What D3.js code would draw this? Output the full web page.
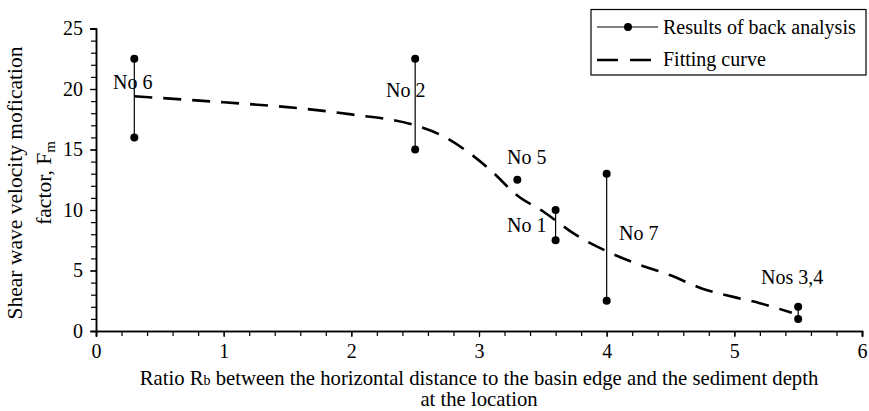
<!DOCTYPE html>
<html><head><meta charset="utf-8">
<script src="https://cdn.jsdelivr.net/npm/d3@7"></script>
<style>
body{margin:0;background:#fff;}
text{font-family:"Liberation Serif","Times New Roman",serif;fill:#000;}
</style></head>
<body>
<svg id="chart" width="869" height="411"></svg>
<script>
// Results of back analysis: ranges per site
const siteNames = ["No 6","No 2","No 5","No 1","No 7","Nos 3,4"];
const siteX     = [0.3, 2.5, 3.3, 3.6, 4.0, 5.5];
const siteLow   = [16, 15, 12.5, 7.5, 2.5, 1];
const siteHigh  = [22.5, 22.5, 12.5, 10, 13, 2];
// Fitting curve
const fitX = [0.3,1.0,1.5,2.0,2.5,2.7,2.9,3.1,3.3,3.5,3.75,4.0,4.2,4.5,4.75,5.0,5.2,5.45];
const fitY = [19.4,18.9,18.5,17.9,17.0,16.2,14.9,13.2,11.2,9.9,8.0,6.6,5.7,4.6,3.5,2.8,2.3,1.5];
const xTicks = [0,1,2,3,4,5,6];
const yTicks = [0,5,10,15,20,25];

const svg = d3.select("#chart");
const x = d3.scaleLinear().domain([0,6]).range([96,862]);
const y = d3.scaleLinear().domain([0,25]).range([331,28.5]);

// axes
const gx = svg.append("g").attr("transform","translate(0,331)");
gx.call(d3.axisBottom(x).tickValues(d3.range(0,6.01,0.2)).tickSize(5).tickFormat(""));
const gx2 = svg.append("g").attr("transform","translate(0,331)");
gx2.call(d3.axisBottom(x).tickValues(xTicks).tickSize(6).tickPadding(7).tickFormat(d3.format("d")));
const gy = svg.append("g").attr("transform","translate(96,0)");
gy.call(d3.axisLeft(y).tickValues(d3.range(0,25.01,1)).tickSize(5).tickFormat(""));
const gy2 = svg.append("g").attr("transform","translate(96,0)");
gy2.call(d3.axisLeft(y).tickValues(yTicks).tickSize(6).tickPadding(7).tickFormat(d3.format("d")));
svg.selectAll("g").attr("font-family",null);
svg.selectAll(".domain").attr("stroke","#000").attr("stroke-width",1.5);
svg.selectAll(".tick line").attr("stroke","#000").attr("stroke-width",1.2);
svg.selectAll(".tick text").style("font-family","'Liberation Serif', serif").style("font-size","20px").attr("fill","#000");

// fitting curve
const fitData = fitX.map((v,i)=>[v,fitY[i]]);
svg.append("path").datum(fitData)
  .attr("fill","none").attr("stroke","#000").attr("stroke-width",2.6)
  .attr("stroke-dasharray","18,11")
  .attr("d", d3.line().x(d=>x(d[0])).y(d=>y(d[1])).curve(d3.curveMonotoneX));

// results (range bars + dots)
const sites = siteNames.map((n,i)=>({n, x:siteX[i], lo:siteLow[i], hi:siteHigh[i]}));
svg.selectAll("line.rng").data(sites.filter(d=>d.hi>d.lo)).enter().append("line")
  .attr("x1",d=>x(d.x)).attr("x2",d=>x(d.x)).attr("y1",d=>y(d.lo)).attr("y2",d=>y(d.hi))
  .attr("stroke","#000").attr("stroke-width",1.2);
const pts = [];
sites.forEach(d=>{pts.push([d.x,d.lo]); if(d.hi!==d.lo) pts.push([d.x,d.hi]);});
svg.selectAll("circle.pt").data(pts).enter().append("circle")
  .attr("cx",d=>x(d[0])).attr("cy",d=>y(d[1])).attr("r",4).attr("fill","#000");

// site labels
const labelPos = [[113,89],[386,97],[507,164],[507,232],[619,240],[761,284]];
svg.selectAll("text.lab").data(sites).enter().append("text")
  .attr("x",(d,i)=>labelPos[i][0]).attr("y",(d,i)=>labelPos[i][1])
  .style("font-size","20px").text(d=>d.n);

// legend
const lg = svg.append("g");
lg.append("rect").attr("x",591).attr("y",9.5).attr("width",275).attr("height",65.5)
  .attr("fill","#fff").attr("stroke","#000").attr("stroke-width",1.2);
lg.append("line").attr("x1",597).attr("x2",658).attr("y1",27).attr("y2",27).attr("stroke","#000").attr("stroke-width",1.2);
lg.append("circle").attr("cx",628).attr("cy",27).attr("r",4).attr("fill","#000");
lg.append("text").attr("x",663).attr("y",34).style("font-size","20px").text("Results of back analysis");
lg.append("line").attr("x1",597).attr("x2",652).attr("y1",60).attr("y2",60).attr("stroke","#000").attr("stroke-width",2.6).attr("stroke-dasharray","21,12");
lg.append("text").attr("x",663).attr("y",66).style("font-size","20px").text("Fitting curve");

// x axis title
const xt = svg.append("text").attr("x",479).attr("y",385).attr("text-anchor","middle").style("font-size","20.7px");
xt.append("tspan").text("Ratio R");
xt.append("tspan").style("font-size","14px").text("b");
xt.append("tspan").text(" between the horizontal distance to the basin edge and the sediment depth");
svg.append("text").attr("x",479).attr("y",406).attr("text-anchor","middle").style("font-size","20.7px").text("at the location");

// y axis title
const yt = svg.append("g").attr("transform","translate(0,183) rotate(-90)");
yt.append("text").attr("x",0).attr("y",22).attr("text-anchor","middle").style("font-size","21.5px").text("Shear wave velocity mofication");
const yt2 = yt.append("text").attr("x",0).attr("y",51).attr("text-anchor","middle").style("font-size","21.5px");
yt2.append("tspan").text("factor, F");
yt2.append("tspan").attr("dy",4).style("font-size","15px").text("m");
</script>
</body></html>
